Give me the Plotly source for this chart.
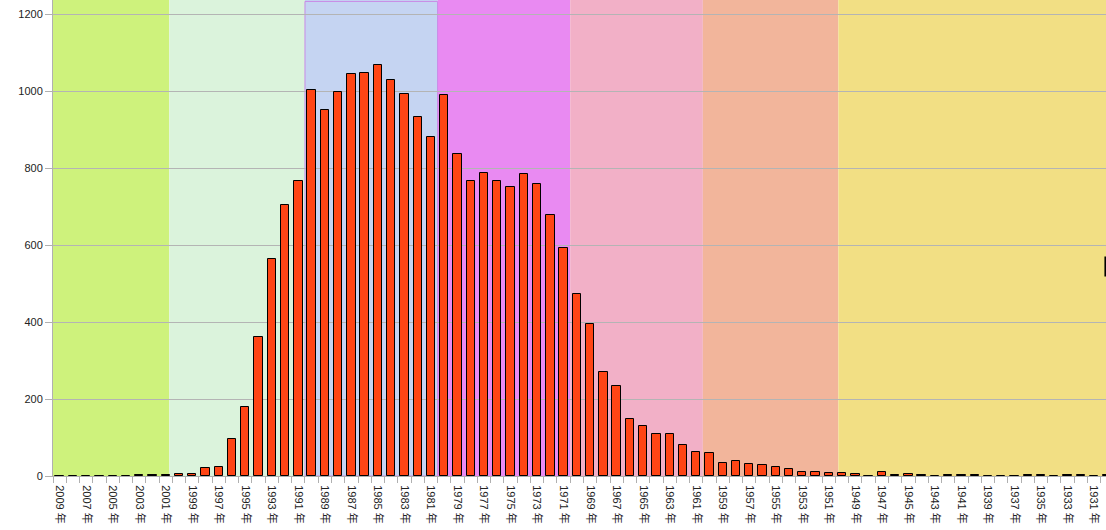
import plotly.graph_objects as go

# Anos (categorias) e contagens
anos = list(range(2009, 1929, -1))
contagens = [
    0, 0, 0, 0, 0, 0, 2, 2, 2,
    5, 5, 21, 23, 96, 180, 362, 564, 704, 766,
    1002, 950, 997, 1044, 1047, 1067, 1028, 992, 932, 881,
    989, 837, 766, 787, 766, 750, 784, 758, 678, 592,
    473, 395, 269, 235, 148, 130, 109, 110, 81, 62,
    60, 34, 39, 31, 29, 23, 18, 10, 10, 7,
    7, 5, 1, 10, 3, 5, 2, 1, 2, 2, 2, 0, 0, 0, 2, 2, 0, 2, 2, 0, 2,
]
rotulos = [f"{a} 年" for a in anos]

# Faixas de fundo por década: (início, fim em índice de categoria, cor)
faixas = [
    (-0.5, 8.27, "#cef27c"),
    (8.27, 18.5, "#dbf3dc"),
    (18.5, 28.5, "#c5d4f2"),
    (28.5, 38.5, "#e98af2"),
    (38.5, 48.5, "#f2b0c7"),
    (48.5, 58.72, "#f2b59b"),
    (58.72, 79.5, "#f2df84"),
]

x = list(range(len(anos)))

fig = go.Figure(go.Bar(
    x=x, y=contagens, width=0.63,
    marker=dict(color="#ff4515", line=dict(color="#000000", width=1)),
    hovertext=rotulos,
))

for x0, x1, cor in faixas:
    fig.add_shape(type="rect", xref="x", yref="paper", x0=x0, x1=x1, y0=0, y1=1,
                  fillcolor=cor, line_width=0, layer="below")

# Contorno roxo da faixa dos anos 80
fig.add_shape(type="rect", xref="x", yref="paper", x0=18.5, x1=28.5, y0=0, y1=0.997,
              fillcolor="rgba(0,0,0,0)", line=dict(color="#c88ae6", width=1), layer="below")

# Marca preta cortada na borda direita
fig.add_shape(type="rect", xref="paper", yref="paper", x0=0.9985, x1=1.0, y0=0.419, y1=0.461,
              fillcolor="#000000", line_width=0)

fonte = "Liberation Sans, Noto Sans CJK SC, sans-serif"

fig.update_layout(
    width=1106, height=530,
    margin=dict(l=53, r=0, t=0, b=54),
    paper_bgcolor="white", plot_bgcolor="white",
    showlegend=False,
    font=dict(family=fonte, size=11, color="#222222"),
    bargap=0,
)

fig.update_xaxes(
    automargin=False,
    range=[-0.5, 78.9],
    tickmode="array",
    tickvals=x[::2][:40],
    ticktext=rotulos[::2][:40],
    tickangle=90,
    ticks="outside", ticklen=6, tickcolor="rgba(0,0,0,0)",
    minor=dict(tickmode="array", tickvals=[i - 0.5 for i in range(81)],
               ticks="outside", ticklen=6, tickcolor="#b0b0b0", showgrid=False),
    showline=True, linecolor="#b0b0b0", linewidth=1,
    showgrid=False, zeroline=False,
    tickfont=dict(family=fonte, size=11, color="#222222"),
)

fig.update_yaxes(
    automargin=False,
    range=[0, 1237],
    tickmode="linear", tick0=0, dtick=200,
    ticks="outside", ticklen=7, tickcolor="#b0b0b0",
    showline=True, linecolor="#b0b0b0", linewidth=1,
    showgrid=True, gridcolor="#b4b4b4", gridwidth=1,
    zeroline=False,
    tickfont=dict(family=fonte, size=11, color="#222222"),
)

# Remove a margem padrão do <body> para o gráfico ocupar a janela inteira
fig.write_html("out.html", config={"displayModeBar": False},
               post_script="document.body.style.margin='0px';")
